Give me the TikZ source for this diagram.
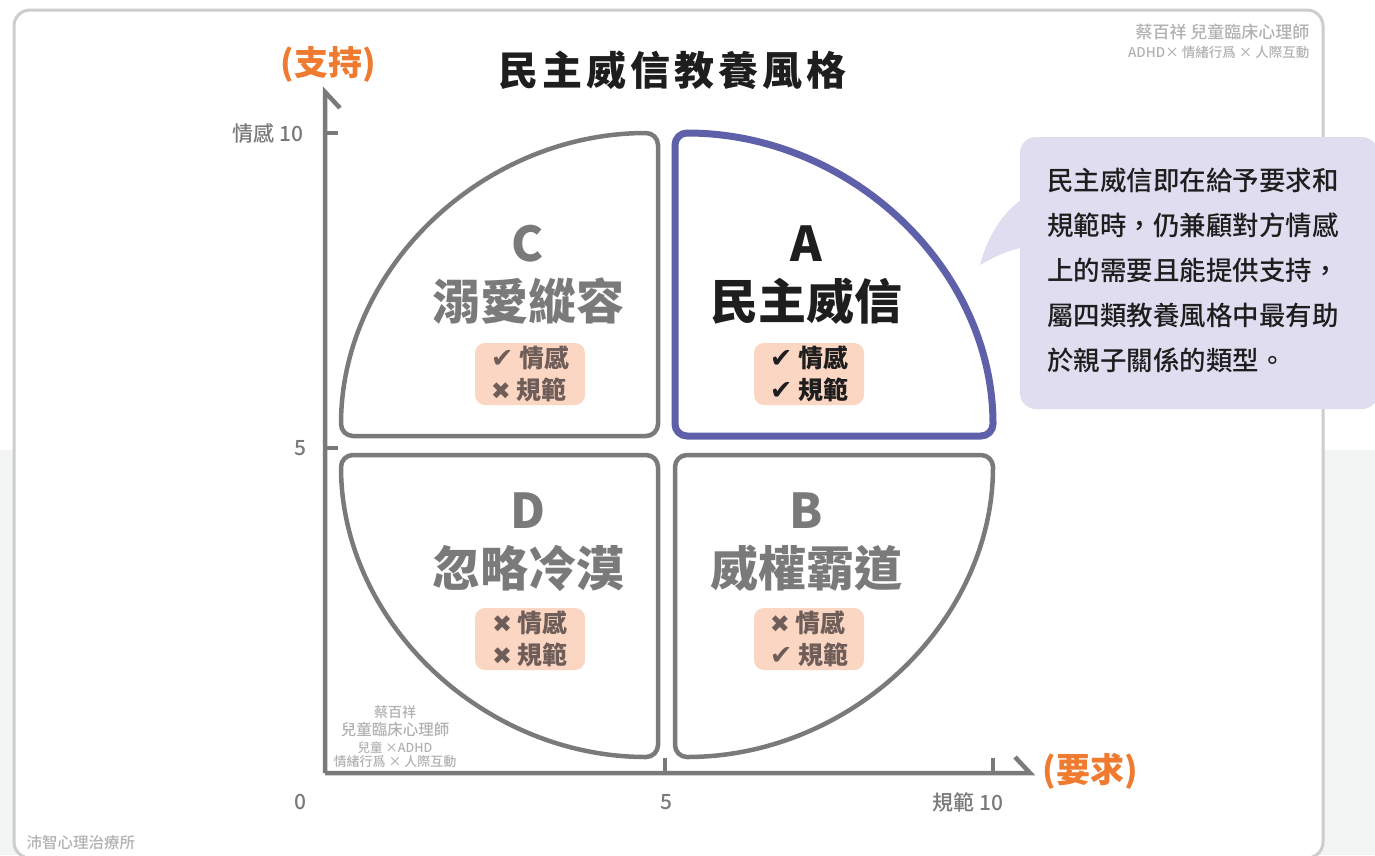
\documentclass[tikz,border=0pt]{standalone}
\usepackage{fontspec}
\setmainfont{Noto Sans CJK TC}
\newfontfamily\medfont{Noto Sans CJK TC Medium}
\newfontfamily\symfont{DejaVu Sans}
\usetikzlibrary{positioning}

\definecolor{quadgray}{HTML}{7A7A7A}
\definecolor{apurple}{HTML}{5E61A9}
\definecolor{badgefill}{HTML}{FBD6C2}
\definecolor{badgetext}{HTML}{6E5D58}
\definecolor{notefill}{HTML}{DFDDEF}
\definecolor{axisorange}{HTML}{EF7B30}
\definecolor{bgmint}{HTML}{F2F5F4}
\definecolor{cardline}{HTML}{CDCDCD}
\definecolor{markgray}{HTML}{B2B2B2}
\definecolor{inkdark}{HTML}{1E1E1E}

\tikzset{
  quad/.style={draw=quadgray, line width=4.5pt, rounded corners=12pt},
  quadA/.style={draw=apurple, line width=7pt, rounded corners=12pt},
  axis/.style={draw=quadgray, line width=4.5pt},
  letter/.style={font=\fontsize{48}{50}\selectfont\bfseries, text=quadgray},
  badge/.style={fill=badgefill, rounded corners=10pt, text=badgetext,
    font=\fontsize{25}{32}\selectfont\bfseries, align=left,
    minimum width=110pt, minimum height=62pt, inner sep=0pt},
  ticklabel/.style={text=quadgray, font=\fontsize{21}{24}\selectfont\medfont},
  axistitle/.style={text=axisorange, font=\fontsize{34}{36}\selectfont\bfseries},
  watermark/.style={text=markgray, font=\fontsize{14}{16}\selectfont\medfont}
}
\newcommand{\yes}{{\symfont\fontsize{27}{32}\selectfont ✔}}
\newcommand{\no}{{\symfont\fontsize{24}{32}\selectfont ✖}}

\begin{document}
\begin{tikzpicture}[x=1pt,y=-1pt]
\useasboundingbox (0,0) rectangle (1375,855);
\clip (0,0) rectangle (1375,855);

% background and card
\fill[white] (0,0) rectangle (1375,855);
\fill[bgmint] (0,450) rectangle (1375,855);
\draw[cardline, line width=3pt, fill=white, rounded corners=16pt] (14,10) rectangle (1323,858);

% title
\node[font=\fontsize{40}{44}\selectfont\bfseries\addfontfeature{LetterSpace=10}, text=inkdark] (title) at (672,70) {民主威信教養風格};

% axes
\coordinate (origin) at (325,773);
\coordinate (ytop) at (325,92);
\coordinate (xend) at (1030,773);
\draw[axis] (origin) -- (ytop) -- ++(15,16);
\draw[axis] (origin) -- (xend) -- ++(-15,-16);
\foreach \y in {133,448}
   \draw[axis] (325,\y) -- (338,\y);
\foreach \x in {665,993}
   \draw[axis] (\x,773) -- (\x,758);

\node[ticklabel, anchor=east] (y10) at (307,133) {情感 10};
\node[ticklabel] (y5) at (300,448) {5};
\node[ticklabel] (x0) at (300,802) {0};
\node[ticklabel] (x5) at (666,802) {5};
\node[ticklabel] (x10) at (968,802) {規範 10};
\node[axistitle] (support) at (328,64) {(支持)};
\node[axistitle] (demand) at (1090,771) {(要求)};

% quadrants
\draw[quad] (658,436) -- (658,133) arc[start angle=90, end angle=180, x radius=317pt, y radius=303pt] -- cycle;
\draw[quad] (658,455) -- (341,455) arc[start angle=180, end angle=270, x radius=317pt, y radius=302pt] -- cycle;
\draw[quad] (675,455) -- (675,757) arc[start angle=270, end angle=360, x radius=318pt, y radius=302pt] -- cycle;
\draw[quadA] (675,436) -- (675,133) arc[start angle=90, end angle=0, x radius=318pt, y radius=303pt] -- cycle;

% quadrant texts
\node[letter] (cLetter) at (528,244) {C};
\node[letter] (cName) at (528,301) {溺愛縱容};
\node[badge] (cBadge) at (530,374) {\yes\ 情感\\\no\ 規範};

\node[letter, text=inkdark] (aLetter) at (806,244) {A};
\node[letter, text=inkdark] (aName) at (806,301) {民主威信};
\node[badge, text=inkdark] (aBadge) at (809,374) {\yes\ 情感\\\yes\ 規範};

\node[letter] (dLetter) at (528,511) {D};
\node[letter] (dName) at (528,568) {忽略冷漠};
\node[badge] (dBadge) at (530,639) {\no\ 情感\\\no\ 規範};

\node[letter] (bLetter) at (806,511) {B};
\node[letter] (bName) at (806,568) {威權霸道};
\node[badge] (bBadge) at (809,639) {\no\ 情感\\\yes\ 規範};

% note bubble
\fill[notefill, rounded corners=16pt] (1020,137) rectangle (1378,409);
\fill[notefill] (1024,198) .. controls (1002,212) and (987,238) .. (980,265)
   .. controls (995,256) and (1010,250) .. (1024,247) -- cycle;
\node[anchor=north west, align=left, inner sep=0pt, text=inkdark,
  font=\fontsize{26.5}{45}\selectfont\medfont] (note) at (1047,168)
  {民主威信即在給予要求和\\規範時，仍兼顧對方情感\\上的需要且能提供支持，\\屬四類教養風格中最有助\\於親子關係的類型。};

% watermarks
\node[watermark, anchor=east, font=\fontsize{17}{20}\selectfont\medfont] (markTop) at (1313,32) {蔡百祥 兒童臨床心理師};
\node[watermark, anchor=east, font=\fontsize{13.5}{16}\selectfont\medfont] (markTopSub) at (1313,52) {ADHD× 情緒行爲 × 人際互動};
\node[watermark] (markA) at (395,712) {蔡百祥};
\node[watermark, font=\fontsize{15.5}{16}\selectfont\medfont] (markB) at (395,730) {兒童臨床心理師};
\node[watermark, font=\fontsize{12.5}{14}\selectfont\medfont] (markC) at (395,748) {兒童 ×ADHD};
\node[watermark, font=\fontsize{13}{14}\selectfont\medfont] (markD) at (395,762) {情緒行爲 × 人際互動};
\node[watermark, anchor=west, font=\fontsize{15.5}{16}\selectfont\medfont] (clinic) at (23,843) {沛智心理治療所};
\end{tikzpicture}
\end{document}
